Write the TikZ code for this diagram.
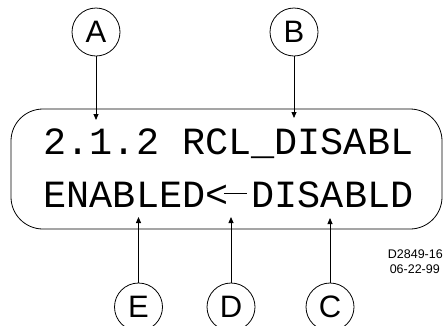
\documentclass[tikz,border=0pt]{standalone}
\usepackage{fontspec}
\newfontfamily\lcdfont{Liberation Mono}
\newfontfamily\labfont{Liberation Sans}
\usetikzlibrary{arrows.meta}
\begin{document}
\begin{tikzpicture}[x=1pt,y=-1pt,
  callout/.style={circle,draw,line width=0.8pt,minimum size=48pt,inner sep=0pt,
    font=\labfont\fontsize{31}{31}\selectfont},
  lcd/.style={anchor=base,inner sep=0pt,font=\lcdfont\fontsize{38.5}{40}\selectfont},
  pointer/.style={line width=0.8pt,-{Triangle[length=6pt,width=5pt]}},
  stamp/.style={anchor=base east,inner sep=0pt,font=\labfont\fontsize{12.5}{13}\selectfont}]
\useasboundingbox (0,0) rectangle (443,325);
% display outline
\node[draw,line width=0.8pt,rounded corners=32pt,minimum width=431pt,minimum height=120pt,inner sep=0pt] (display) at (226.5,169) {};
% display text
\node[lcd] (line1) at (228.5,154) {2.1.2 RCL\_DISABL};
\node[lcd] (line2) at (228.5,207) {ENABLED<\makebox[0.6em][l]{\kern-0.12em\rule[0.35em]{0.6em}{0.7pt}}DISABLD};
% callouts
\node[callout] (A) at (96,32) {A};
\node[callout] (B) at (294,32) {B};
\node[callout] (E) at (138.5,307) {E};
\node[callout] (D) at (231,307) {D};
\node[callout] (C) at (330,307) {C};
% arrow tips
\coordinate (tA) at (96,120);
\coordinate (tB) at (294,118);
\coordinate (tE) at (138.5,217);
\coordinate (tD) at (231,217);
\coordinate (tC) at (330,218);
\draw[pointer] (A) -- (tA);
\draw[pointer] (B) -- (tB);
\draw[pointer] (E) -- (tE);
\draw[pointer] (D) -- (tD);
\draw[pointer] (C) -- (tC);
% drawing number
\node[stamp] (num) at (443,258) {D2849-16};
\node[stamp] (date) at (440,273) {06-22-99};
\end{tikzpicture}
\end{document}
